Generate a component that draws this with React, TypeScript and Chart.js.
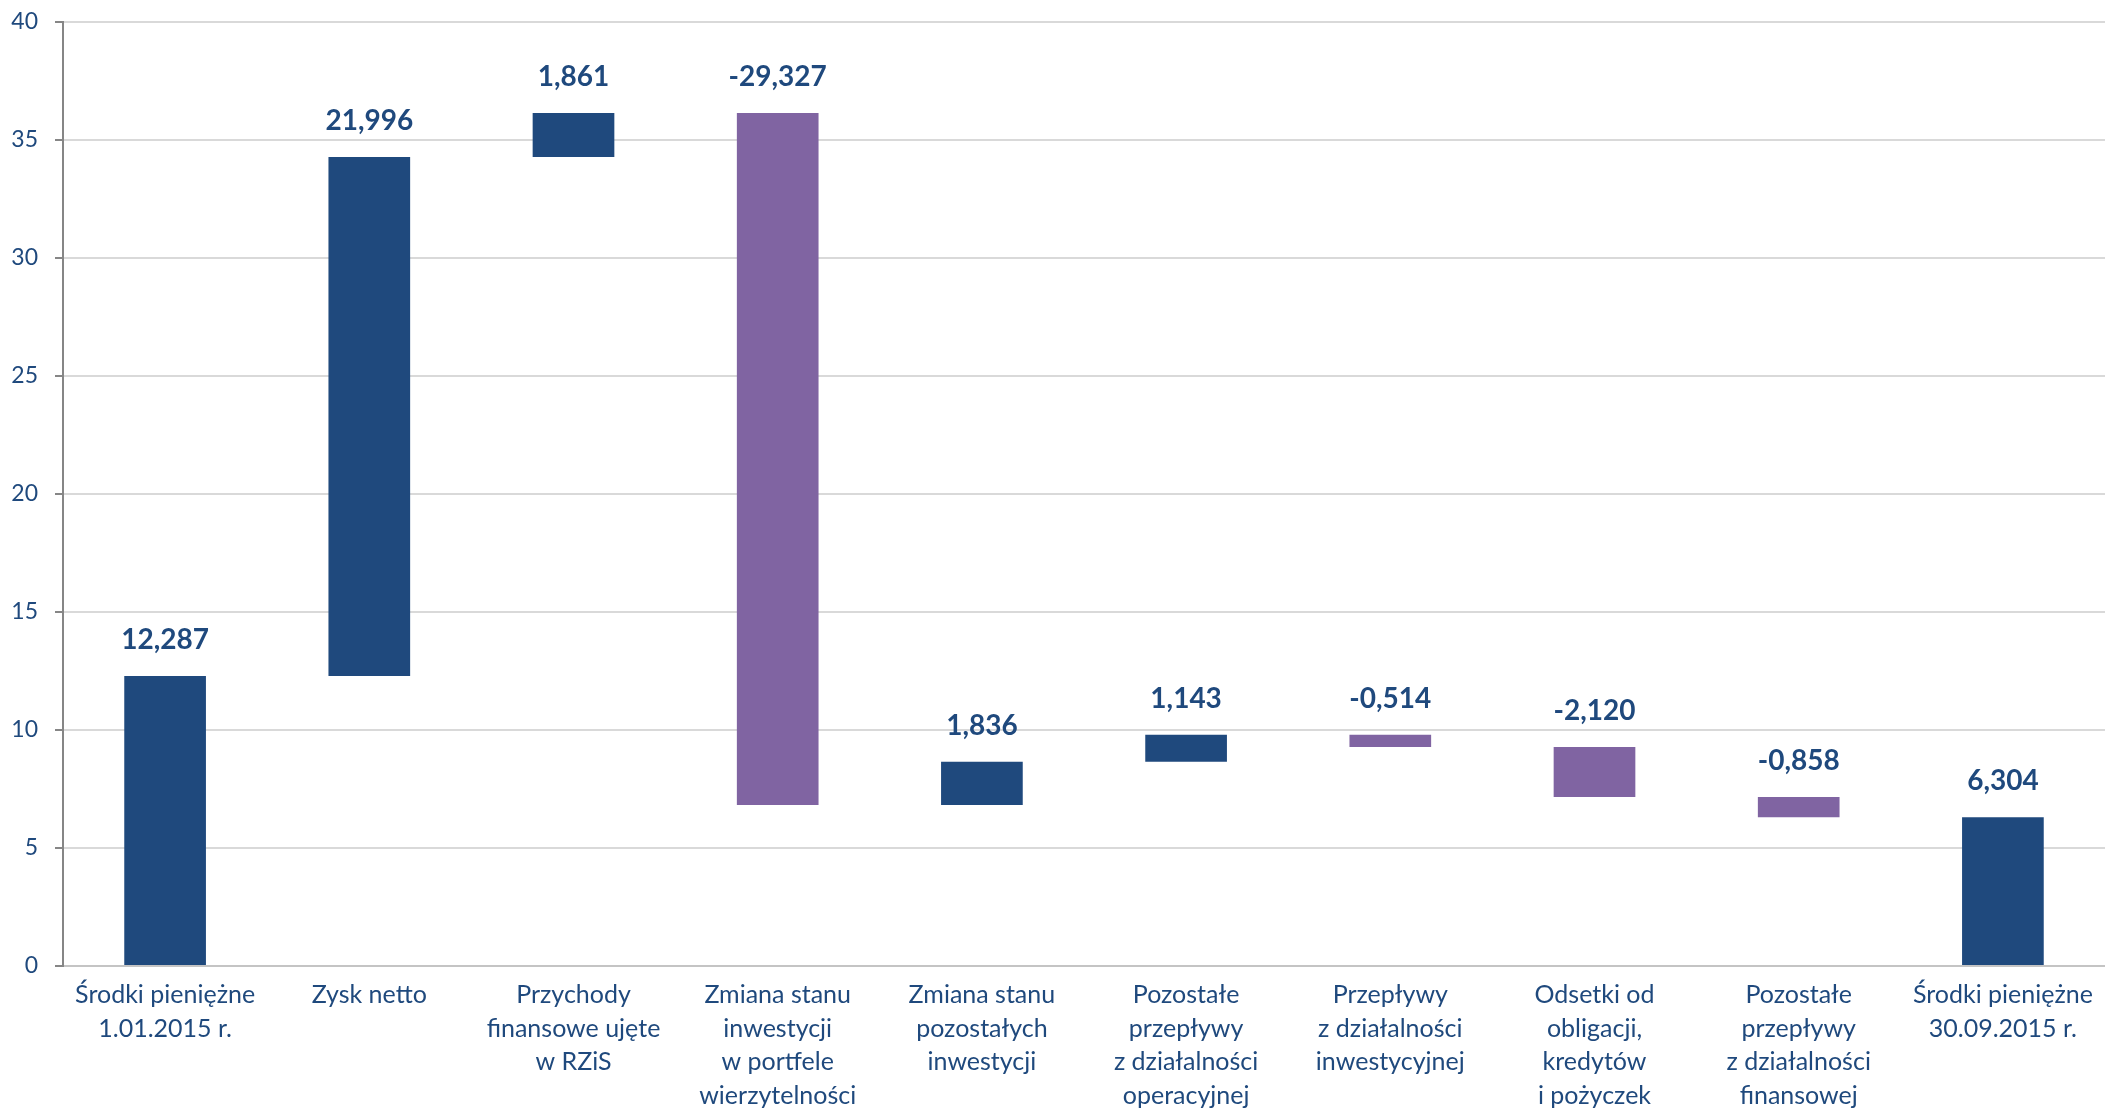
import React, { useEffect, useRef } from "react";
import { Chart, registerables } from "chart.js";

Chart.register(...registerables);

const categories: string[][] = [
  ["Środki pieniężne", "1.01.2015 r."],
  ["Zysk netto"],
  ["Przychody", "finansowe ujęte", "w RZiS"],
  ["Zmiana stanu", "inwestycji", "w portfele", "wierzytelności"],
  ["Zmiana stanu", "pozostałych", "inwestycji"],
  ["Pozostałe", "przepływy", "z działalności", "operacyjnej"],
  ["Przepływy", "z działalności", "inwestycyjnej"],
  ["Odsetki od", "obligacji,", "kredytów", "i pożyczek"],
  ["Pozostałe", "przepływy", "z działalności", "finansowej"],
  ["Środki pieniężne", "30.09.2015 r."],
];

const changes: number[] = [12.287, 21.996, 1.861, -29.327, 1.836, 1.143, -0.514, -2.12, -0.858, 6.304];
const isTotal: boolean[] = [true, false, false, false, false, false, false, false, false, true];

const yMin = 0;
const yMax = 40;
const yStep = 5;

const BLUE = "#1F497D";
const PURPLE = "#8064A2";
const TEXT = "#1F497D";
const FONT = "Lato, 'Open Sans', sans-serif";

function buildRanges(): [number, number][] {
  const out: [number, number][] = [];
  let running = 0;
  changes.forEach((v, i) => {
    if (isTotal[i]) {
      out.push([0, v]);
      running = v;
    } else {
      out.push([running, running + v]);
      running += v;
    }
  });
  return out;
}

const fmt = (v: number) => v.toFixed(3).replace(".", ",");

const labelPlugin = {
  id: "wfLabels",
  afterDatasetsDraw(chart: any) {
    const ctx = chart.ctx;
    const meta = chart.getDatasetMeta(0);
    ctx.save();
    ctx.font = `bold 28px ${FONT}`;
    ctx.fillStyle = TEXT;
    ctx.textAlign = "center";
    ctx.textBaseline = "middle";
    meta.data.forEach((el: any, i: number) => {
      const top = Math.min(el.y, el.base);
      ctx.fillText(fmt(changes[i]), el.x, top - 36);
    });
    ctx.restore();
  },
};

export default function App() {
  const ref = useRef<HTMLCanvasElement | null>(null);
  useEffect(() => {
    document.body.style.margin = "0";
    const ranges = buildRanges();
    const colors = changes.map((v, i) => (isTotal[i] || v >= 0 ? BLUE : PURPLE));
    const chart = new Chart(ref.current as HTMLCanvasElement, {
      type: "bar",
      data: {
        labels: categories,
        datasets: [
          {
            data: ranges as any,
            backgroundColor: colors,
            borderWidth: 0,
            barPercentage: 0.4,
            categoryPercentage: 1,
          },
        ],
      },
      options: {
        animation: false,
        responsive: false,
        devicePixelRatio: 1,
        layout: { padding: { top: 22, left: 0, right: 0, bottom: 0 } },
        plugins: {
          legend: { display: false },
          tooltip: { enabled: false },
        },
        scales: {
          x: {
            grid: { display: false, drawTicks: false },
            border: { display: true, color: "#C4C4C4", width: 2 },
            ticks: {
              color: TEXT,
              font: { family: FONT, size: 25, lineHeight: 1.35 },
              padding: 12,
              maxRotation: 0,
              autoSkip: false,
            },
            afterFit(scale: any) {
              scale.height = 146;
              scale.paddingLeft = 0;
              scale.paddingRight = 0;
            },
          },
          y: {
            min: yMin,
            max: yMax,
            grid: { color: "#D9D9D9", lineWidth: 2, tickColor: "#868686", tickLength: 8 },
            border: { display: true, color: "#868686", width: 2 },
            ticks: {
              stepSize: yStep,
              color: TEXT,
              font: { family: FONT, size: 23 },
              padding: 17,
            },
            afterFit(scale: any) {
              scale.width = 63;
              scale.paddingTop = 0;
              scale.paddingBottom = 0;
            },
          },
        },
      },
      plugins: [labelPlugin],
    });
    return () => chart.destroy();
  }, []);
  return (
    <div style={{ position: "absolute", left: 0, top: 0, width: 2105, height: 1112 }}>
      <canvas ref={ref} width={2105} height={1112} />
    </div>
  );
}
